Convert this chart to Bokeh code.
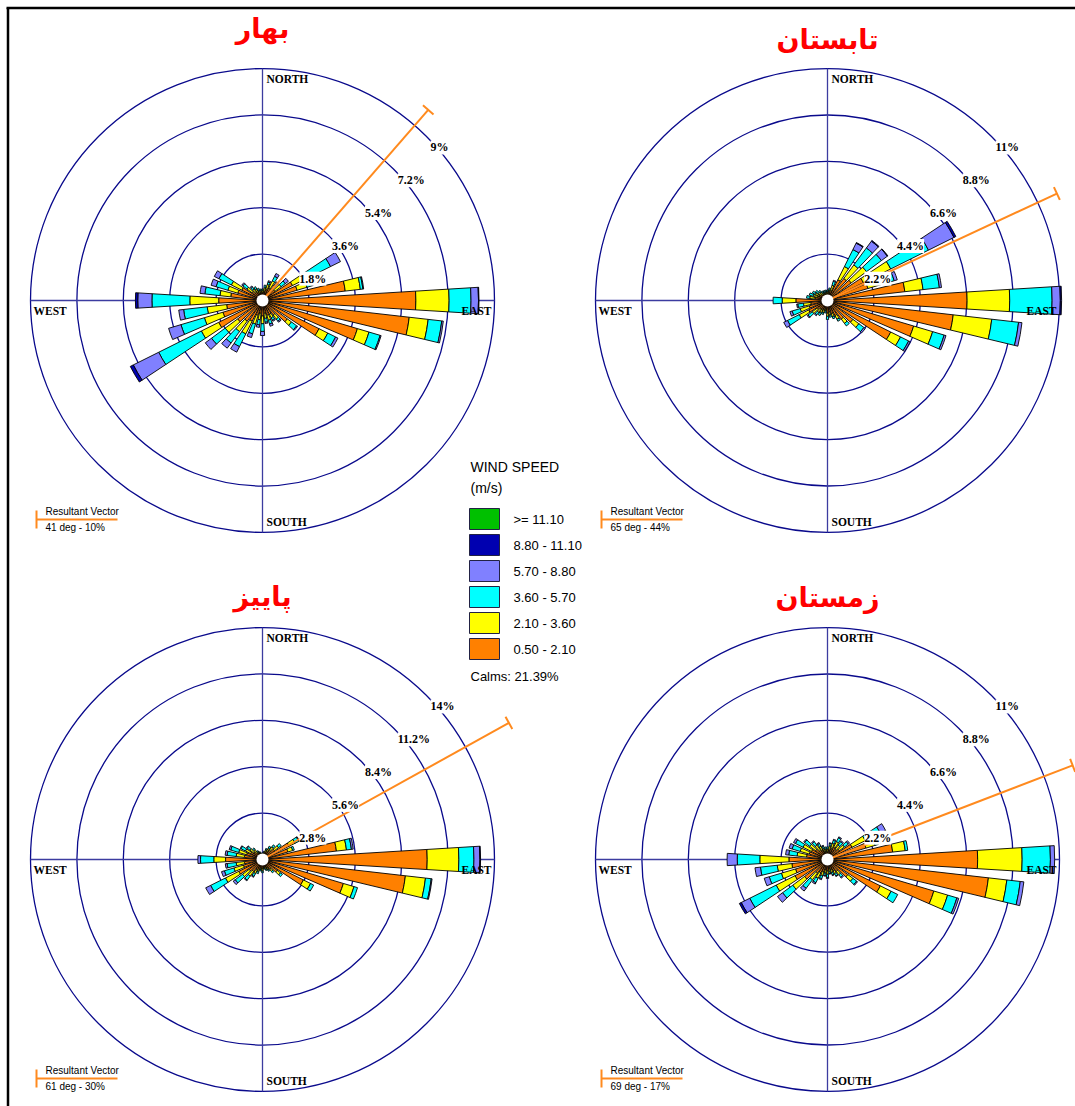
import math
from bokeh.plotting import figure
from bokeh.models import Range1d, ColumnDataSource, LabelSet
from bokeh.embed import file_html
from bokeh.resources import INLINE
from bokeh.core.properties import value

# ---------------- DATA ----------------
DIRECTIONS = list(range(0, 360, 10))  # degrees, clockwise from north

SPEED_LABELS = [">= 11.10", "8.80 - 11.10", "5.70 - 8.80", "3.60 - 5.70", "2.10 - 3.60", "0.50 - 2.10"]
SPEED_COLORS = ["#00C000", "#0000B0", "#8080FF", "#00FFFF", "#FFFF00", "#FF8000"]
CALMS_TEXT = "Calms: 21.39%"

SEASON_TITLES = ["بهار", "تابستان", "پاییز", "زمستان"]

# frequencies (%) per direction, per speed class (inner -> outer)
SPRING_050_210 = [0.30, 0.35, 0.45, 0.55, 0.50, 0.60, 1.30, 1.40, 3.23, 5.95, 5.73, 3.84, 2.45, 1.20, 0.70, 0.60, 0.60, 0.50,
                  0.60, 0.50, 0.60, 0.90, 1.00, 1.20, 1.90, 1.60, 1.40, 1.70, 1.24, 1.00, 0.90, 0.50, 0.40, 0.35, 0.30, 0.30]
SPRING_210_360 = [0.10, 0.15, 0.20, 0.30, 0.25, 0.30, 0.60, 0.40, 0.59, 1.29, 0.74, 0.47, 0.38, 0.20, 0.20, 0.15, 0.20, 0.20,
                  0.30, 0.25, 0.35, 0.55, 0.50, 0.60, 0.75, 0.75, 0.76, 1.12, 0.42, 0.40, 0.45, 0.25, 0.15, 0.15, 0.10, 0.10]
SPRING_360_570 = [0.05, 0.10, 0.10, 0.20, 0.10, 0.20, 1.05, 0.20, 0.10, 0.85, 0.53, 0.45, 0.34, 0.25, 0.10, 0.10, 0.15, 0.15,
                  0.30, 0.20, 0.40, 0.55, 0.55, 0.66, 1.85, 0.95, 0.92, 1.47, 0.59, 0.48, 0.54, 0.20, 0.10, 0.10, 0.10, 0.05]
SPRING_570_880 = [0.00, 0.00, 0.05, 0.12, 0.05, 0.15, 0.43, 0.05, 0.03, 0.29, 0.06, 0.04, 0.10, 0.04, 0.05, 0.05, 0.09, 0.05,
                  0.16, 0.10, 0.15, 0.24, 0.25, 0.30, 1.10, 0.50, 0.19, 0.55, 0.19, 0.20, 0.20, 0.05, 0.05, 0.00, 0.00, 0.00]
SPRING_880_1110 = [0.00, 0.00, 0.00, 0.00, 0.00, 0.00, 0.00, 0.00, 0.00, 0.02, 0.00, 0.00, 0.00, 0.00, 0.00, 0.00, 0.00, 0.00,
                   0.00, 0.00, 0.00, 0.00, 0.00, 0.00, 0.13, 0.00, 0.00, 0.09, 0.00, 0.00, 0.00, 0.00, 0.00, 0.00, 0.00, 0.00]
SPRING_GE_1110 = [0.00, 0.00, 0.00, 0.00, 0.00, 0.00, 0.00, 0.00, 0.00, 0.00, 0.00, 0.00, 0.00, 0.00, 0.00, 0.00, 0.00, 0.00,
                  0.00, 0.00, 0.00, 0.00, 0.00, 0.00, 0.00, 0.00, 0.00, 0.00, 0.00, 0.00, 0.00, 0.00, 0.00, 0.00, 0.00, 0.00]

SUMMER_050_210 = [0.30, 0.35, 0.50, 1.10, 1.30, 1.40, 1.90, 2.00, 3.69, 6.62, 6.00, 4.26, 3.35, 1.50, 1.10, 0.80, 0.65, 0.55,
                  0.60, 0.40, 0.45, 0.50, 0.50, 0.60, 1.00, 0.90, 0.80, 1.50, 0.60, 0.50, 0.45, 0.40, 0.35, 0.30, 0.30, 0.30]
SUMMER_210_360 = [0.12, 0.15, 0.25, 0.70, 0.80, 0.90, 1.45, 0.80, 0.87, 2.02, 1.84, 0.94, 0.52, 0.35, 0.25, 0.20, 0.15, 0.15,
                  0.15, 0.10, 0.15, 0.15, 0.20, 0.30, 0.50, 0.45, 0.35, 0.65, 0.25, 0.20, 0.20, 0.15, 0.15, 0.10, 0.10, 0.10]
SUMMER_360_570 = [0.08, 0.10, 0.20, 0.90, 1.00, 0.88, 2.00, 0.50, 0.78, 2.01, 1.28, 0.57, 0.43, 0.30, 0.15, 0.10, 0.10, 0.10,
                  0.15, 0.10, 0.10, 0.15, 0.15, 0.25, 0.62, 0.40, 0.27, 0.43, 0.15, 0.20, 0.15, 0.15, 0.10, 0.10, 0.10, 0.10]
SUMMER_570_880 = [0.00, 0.00, 0.05, 0.34, 0.40, 0.35, 1.35, 0.15, 0.10, 0.39, 0.16, 0.09, 0.08, 0.08, 0.00, 0.00, 0.00, 0.00,
                  0.00, 0.00, 0.00, 0.00, 0.05, 0.05, 0.20, 0.11, 0.05, 0.00, 0.00, 0.00, 0.00, 0.00, 0.00, 0.00, 0.00, 0.00]
SUMMER_880_1110 = [0.00, 0.00, 0.00, 0.03, 0.04, 0.03, 0.10, 0.00, 0.00, 0.06, 0.00, 0.00, 0.00, 0.00, 0.00, 0.00, 0.00, 0.00,
                   0.00, 0.00, 0.00, 0.00, 0.00, 0.00, 0.00, 0.00, 0.00, 0.00, 0.00, 0.00, 0.00, 0.00, 0.00, 0.00, 0.00, 0.00]
SUMMER_GE_1110 = [0.00, 0.00, 0.00, 0.00, 0.00, 0.00, 0.00, 0.00, 0.00, 0.00, 0.00, 0.00, 0.00, 0.00, 0.00, 0.00, 0.00, 0.00,
                  0.00, 0.00, 0.00, 0.00, 0.00, 0.00, 0.00, 0.00, 0.00, 0.00, 0.00, 0.00, 0.00, 0.00, 0.00, 0.00, 0.00, 0.00]

AUTUMN_050_210 = [0.25, 0.30, 0.45, 0.55, 0.70, 0.90, 1.80, 1.60, 4.49, 9.94, 8.68, 5.09, 2.76, 1.10, 0.75, 0.60, 0.50, 0.45,
                  0.55, 0.50, 0.60, 0.70, 0.90, 1.00, 1.60, 1.20, 1.10, 2.23, 1.10, 1.00, 0.80, 0.65, 0.50, 0.35, 0.30, 0.25]
AUTUMN_210_360 = [0.10, 0.12, 0.15, 0.20, 0.25, 0.30, 0.40, 0.30, 0.61, 1.91, 1.22, 0.67, 0.48, 0.25, 0.15, 0.12, 0.12, 0.10,
                  0.15, 0.12, 0.15, 0.25, 0.35, 0.50, 0.90, 0.60, 0.50, 0.71, 0.50, 0.50, 0.35, 0.30, 0.25, 0.15, 0.12, 0.10]
AUTUMN_360_570 = [0.05, 0.08, 0.10, 0.15, 0.15, 0.20, 0.25, 0.10, 0.30, 0.91, 0.35, 0.22, 0.21, 0.15, 0.10, 0.08, 0.08, 0.05,
                  0.10, 0.08, 0.15, 0.20, 0.30, 0.55, 1.00, 0.60, 0.55, 0.80, 0.55, 0.50, 0.30, 0.20, 0.12, 0.10, 0.08, 0.05]
AUTUMN_570_880 = [0.00, 0.00, 0.00, 0.00, 0.00, 0.00, 0.05, 0.00, 0.11, 0.36, 0.05, 0.00, 0.00, 0.00, 0.00, 0.00, 0.00, 0.00,
                  0.00, 0.00, 0.00, 0.05, 0.05, 0.15, 0.33, 0.18, 0.11, 0.16, 0.12, 0.10, 0.05, 0.05, 0.00, 0.00, 0.00, 0.00]
AUTUMN_880_1110 = [0.00, 0.00, 0.00, 0.00, 0.00, 0.00, 0.00, 0.00, 0.00, 0.04, 0.00, 0.00, 0.00, 0.00, 0.00, 0.00, 0.00, 0.00,
                   0.00, 0.00, 0.00, 0.00, 0.00, 0.00, 0.00, 0.00, 0.00, 0.00, 0.00, 0.00, 0.00, 0.00, 0.00, 0.00, 0.00, 0.00]
AUTUMN_GE_1110 = [0.00, 0.00, 0.00, 0.00, 0.00, 0.00, 0.00, 0.00, 0.00, 0.00, 0.00, 0.00, 0.00, 0.00, 0.00, 0.00, 0.00, 0.00,
                  0.00, 0.00, 0.00, 0.00, 0.00, 0.00, 0.00, 0.00, 0.00, 0.00, 0.00, 0.00, 0.00, 0.00, 0.00, 0.00, 0.00, 0.00]

WINTER_050_210 = [0.35, 0.45, 0.55, 0.65, 0.60, 0.70, 1.30, 1.90, 3.11, 7.12, 7.68, 5.26, 2.80, 1.20, 0.70, 0.60, 0.50, 0.45,
                  0.55, 0.50, 0.60, 0.70, 0.80, 1.35, 1.72, 1.58, 1.70, 1.83, 1.00, 0.90, 0.85, 0.70, 0.55, 0.50, 0.40, 0.35]
WINTER_210_360 = [0.15, 0.20, 0.25, 0.30, 0.25, 0.30, 0.70, 0.45, 0.60, 2.11, 0.88, 0.68, 0.57, 0.30, 0.20, 0.15, 0.15, 0.12,
                  0.15, 0.15, 0.20, 0.30, 0.40, 0.70, 1.00, 0.70, 0.70, 1.38, 0.45, 0.45, 0.45, 0.35, 0.30, 0.20, 0.15, 0.15]
WINTER_360_570 = [0.10, 0.12, 0.15, 0.20, 0.20, 0.23, 0.80, 0.17, 0.12, 1.34, 0.64, 0.46, 0.35, 0.22, 0.15, 0.12, 0.12, 0.10,
                  0.15, 0.12, 0.15, 0.23, 0.50, 0.60, 1.40, 0.60, 0.80, 1.07, 0.40, 0.40, 0.40, 0.30, 0.20, 0.15, 0.12, 0.10]
WINTER_570_880 = [0.00, 0.03, 0.05, 0.05, 0.05, 0.07, 0.28, 0.00, 0.00, 0.20, 0.17, 0.09, 0.00, 0.05, 0.05, 0.03, 0.03, 0.03,
                  0.05, 0.03, 0.05, 0.07, 0.16, 0.30, 0.45, 0.25, 0.26, 0.48, 0.15, 0.15, 0.10, 0.05, 0.05, 0.05, 0.03, 0.00]
WINTER_880_1110 = [0.00, 0.00, 0.00, 0.00, 0.00, 0.00, 0.00, 0.00, 0.00, 0.00, 0.00, 0.00, 0.00, 0.00, 0.00, 0.00, 0.00, 0.00,
                   0.00, 0.00, 0.00, 0.00, 0.00, 0.00, 0.10, 0.00, 0.00, 0.00, 0.00, 0.00, 0.00, 0.00, 0.00, 0.00, 0.00, 0.00]
WINTER_GE_1110 = [0.00, 0.00, 0.00, 0.00, 0.00, 0.00, 0.00, 0.00, 0.00, 0.00, 0.00, 0.00, 0.00, 0.00, 0.00, 0.00, 0.00, 0.00,
                  0.00, 0.00, 0.00, 0.00, 0.00, 0.00, 0.00, 0.00, 0.00, 0.00, 0.00, 0.00, 0.00, 0.00, 0.00, 0.00, 0.00, 0.00]

SPRING_RINGS = [1.8, 3.6, 5.4, 7.2, 9.0]
SUMMER_RINGS = [2.2, 4.4, 6.6, 8.8, 11.0]
AUTUMN_RINGS = [2.8, 5.6, 8.4, 11.2, 14.0]
WINTER_RINGS = [2.2, 4.4, 6.6, 8.8, 11.0]

SPRING_RING_LABELS = ["1.8%", "3.6%", "5.4%", "7.2%", "9%"]
SUMMER_RING_LABELS = ["2.2%", "4.4%", "6.6%", "8.8%", "11%"]
AUTUMN_RING_LABELS = ["2.8%", "5.6%", "8.4%", "11.2%", "14%"]
WINTER_RING_LABELS = ["2.2%", "4.4%", "6.6%", "8.8%", "11%"]

# resultant vectors: direction (deg), label, drawn length (% on the rose scale)
VECTOR_DIRS = [41, 65, 61, 69]
VECTOR_TEXTS = ["41 deg - 10%", "65 deg - 44%", "61 deg - 30%", "69 deg - 17%"]
VECTOR_DRAWN_PCT = [9.8, 12.0, 17.0, 12.45]

# ---------------- LAYOUT ----------------
W, H = 1075, 1106


def PX(x):  # page x -> data x
    return x


def PY(y):  # page y -> data y
    return H - y


p = figure(width=W, height=H, x_range=Range1d(0, W), y_range=Range1d(0, H),
           output_backend="svg", toolbar_location=None, min_border=0,
           x_axis_type=None, y_axis_type=None)
p.grid.visible = False
p.outline_line_color = None
p.background_fill_color = "white"
p.border_fill_color = "white"

# frame lines (top and left)
p.segment(x0=[PX(6), PX(7.5)], y0=[PY(7.5), PY(7.5)], x1=[PX(W), PX(7.5)], y1=[PY(7.5), PY(H)],
          line_color="black", line_width=2.5)

RING_COLOR = "#0A0A8C"
AXIS_COLOR = "#3C3CA0"
VEC_COLOR = "#FF8A1E"
OUTER_R = 232
HALF_W = math.radians(3.5)

SERIF = value("Liberation Serif")
SANS = value("Liberation Sans")

roses = [
    dict(c=(262, 300), rings=SPRING_RINGS, labels=SPRING_RING_LABELS,
         classes=[SPRING_050_210, SPRING_210_360, SPRING_360_570, SPRING_570_880, SPRING_880_1110, SPRING_GE_1110],
         title_y=28),
    dict(c=(827, 300), rings=SUMMER_RINGS, labels=SUMMER_RING_LABELS,
         classes=[SUMMER_050_210, SUMMER_210_360, SUMMER_360_570, SUMMER_570_880, SUMMER_880_1110, SUMMER_GE_1110],
         title_y=39),
    dict(c=(262, 859), rings=AUTUMN_RINGS, labels=AUTUMN_RING_LABELS,
         classes=[AUTUMN_050_210, AUTUMN_210_360, AUTUMN_360_570, AUTUMN_570_880, AUTUMN_880_1110, AUTUMN_GE_1110],
         title_y=596),
    dict(c=(827, 859), rings=WINTER_RINGS, labels=WINTER_RING_LABELS,
         classes=[WINTER_050_210, WINTER_210_360, WINTER_360_570, WINTER_570_880, WINTER_880_1110, WINTER_GE_1110],
         title_y=597),
]

class_colors_inner_to_outer = list(reversed(SPEED_COLORS))

for idx, rose in enumerate(roses):
    cx, cy = PX(rose["c"][0]), PY(rose["c"][1])
    k = OUTER_R / rose["rings"][-1]

    # rings
    radii = [r * k for r in rose["rings"]]
    p.circle(x=[cx] * len(radii), y=[cy] * len(radii), radius=radii,
             fill_color=None, line_color=RING_COLOR, line_width=1.3)
    # cross axes
    p.segment(x0=[cx, cx - OUTER_R], y0=[cy - OUTER_R, cy], x1=[cx, cx + OUTER_R], y1=[cy + OUTER_R, cy],
              line_color=AXIS_COLOR, line_width=1.3)

    # bars
    xs, ys, ir, orr, sa, ea, fc = [], [], [], [], [], [], []
    for i, d in enumerate(DIRECTIONS):
        cum = 0.0
        theta = math.radians(90 - d)
        for ci, vals in enumerate(rose["classes"]):
            v = vals[i]
            if v <= 0:
                continue
            inner = cum * k
            cum += v
            xs.append(cx); ys.append(cy)
            ir.append(inner); orr.append(cum * k)
            sa.append(theta - HALF_W); ea.append(theta + HALF_W)
            fc.append(class_colors_inner_to_outer[ci])
    src = ColumnDataSource(dict(x=xs, y=ys, ir=ir, orr=orr, sa=sa, ea=ea, fc=fc))
    p.annular_wedge(x="x", y="y", inner_radius="ir", outer_radius="orr", start_angle="sa", end_angle="ea",
                    fill_color="fc", line_color="black", line_width=0.9, source=src)

    # resultant vector
    vd = math.radians(VECTOR_DIRS[idx])
    L = VECTOR_DRAWN_PCT[idx] * k
    ex, ey = cx + L * math.sin(vd), cy + L * math.cos(vd)
    p.segment(x0=[cx], y0=[cy], x1=[ex], y1=[ey], line_color=VEC_COLOR, line_width=2)
    tx, ty = 7 * math.cos(vd), -7 * math.sin(vd)
    p.segment(x0=[ex - tx], y0=[ey - ty], x1=[ex + tx], y1=[ey + ty], line_color=VEC_COLOR, line_width=2)

    # calm circle
    p.circle(x=[cx], y=[cy], radius=6, fill_color="white", line_color=None)

    # ring labels
    lx = [cx + r * math.cos(math.radians(45)) for r in radii]
    ly = [cy + r * math.sin(math.radians(45)) for r in radii]
    lsrc = ColumnDataSource(dict(x=lx, y=ly, t=rose["labels"]))
    p.add_layout(LabelSet(x="x", y="y", text="t", source=lsrc, x_offset=4, y_offset=-4,
                          text_font=SERIF, text_font_style="bold", text_font_size="12px",
                          text_baseline="top", text_align="left", text_color="black",
                          background_fill_color="white"))

    # compass labels
    p.text(x=[cx + 4], y=[cy + OUTER_R - 4], text=["NORTH"], text_font=SERIF, text_font_style="bold",
           text_font_size="11.5px", text_baseline="top", text_align="left", text_color="black")
    p.text(x=[cx + 4], y=[cy - OUTER_R + 5], text=["SOUTH"], text_font=SERIF, text_font_style="bold",
           text_font_size="11.5px", text_baseline="bottom", text_align="left", text_color="black")
    p.text(x=[cx + OUTER_R - 3], y=[cy - 4], text=["EAST"], text_font=SERIF, text_font_style="bold",
           text_font_size="11.5px", text_baseline="top", text_align="right", text_color="black")
    p.text(x=[cx - OUTER_R + 3], y=[cy - 4], text=["WEST"], text_font=SERIF, text_font_style="bold",
           text_font_size="11.5px", text_baseline="top", text_align="left", text_color="black")

    # title
    p.text(x=[cx], y=[PY(rose["title_y"])], text=[SEASON_TITLES[idx]], text_font=value("DejaVu Sans"),
           text_font_style="bold", text_font_size="27px", text_align="center", text_baseline="alphabetic",
           text_color="#FF0000")

    # resultant vector legend
    bx, by = rose["c"][0] - 226, rose["c"][1] + 219
    p.segment(x0=[PX(bx), PX(bx)], y0=[PY(by - 9), PY(by)], x1=[PX(bx), PX(bx + 81)], y1=[PY(by + 9), PY(by)],
              line_color=VEC_COLOR, line_width=2)
    p.text(x=[PX(bx + 9)], y=[PY(by - 8)], text=["Resultant Vector"], text_font=SANS, text_font_size="10px",
           text_baseline="middle", text_align="left", text_color="black")
    p.text(x=[PX(bx + 9)], y=[PY(by + 8)], text=[VECTOR_TEXTS[idx]], text_font=SANS, text_font_size="10px",
           text_baseline="middle", text_align="left", text_color="black")

# ---------------- SPEED LEGEND ----------------
p.text(x=[PX(470)], y=[PY(466)], text=["WIND SPEED"], text_font=SANS, text_font_size="14px",
       text_baseline="middle", text_align="left", text_color="black")
p.text(x=[PX(470)], y=[PY(487)], text=["(m/s)"], text_font=SANS, text_font_size="14px",
       text_baseline="middle", text_align="left", text_color="black")
box_tops = [508 + 26 * i for i in range(len(SPEED_LABELS))]
p.quad(left=[PX(469)] * len(box_tops), right=[PX(499)] * len(box_tops),
       top=[PY(t) for t in box_tops], bottom=[PY(t + 21) for t in box_tops],
       fill_color=SPEED_COLORS, line_color="#222244", line_width=1)
p.text(x=[PX(513)] * len(box_tops), y=[PY(t + 10.5) for t in box_tops], text=SPEED_LABELS,
       text_font=SANS, text_font_size="13px", text_baseline="middle", text_align="left", text_color="black")
p.text(x=[PX(470)], y=[PY(676)], text=[CALMS_TEXT], text_font=SANS, text_font_size="13px",
       text_baseline="middle", text_align="left", text_color="black")

open("out.html", "w").write(file_html(p, INLINE))
